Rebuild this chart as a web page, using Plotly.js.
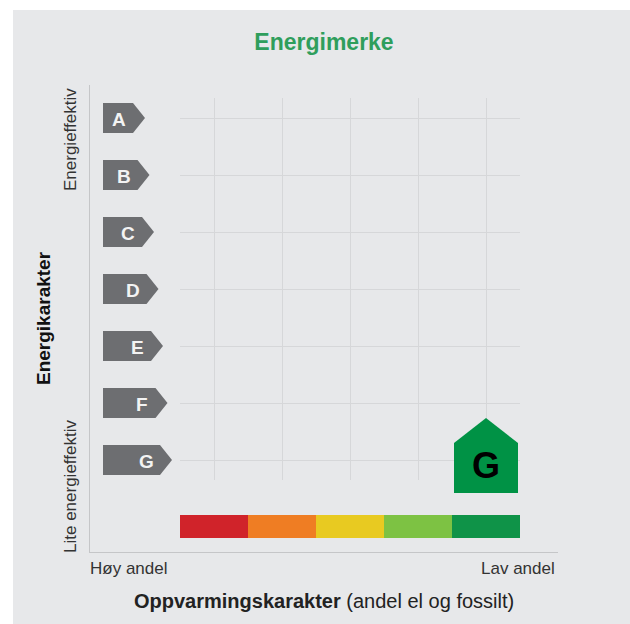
<!DOCTYPE html>
<html>
<head>
<meta charset="utf-8">
<script src="https://cdn.plot.ly/plotly-3.0.1.min.js"></script>
<style>
  html, body { margin: 0; padding: 0; background: #ffffff; width: 630px; height: 624px; overflow: hidden; }
  #chart { position: absolute; left: 13px; top: 10px; width: 617px; height: 614px; }
</style>
</head>
<body>
<div id="chart"></div>
<script>
// ---------------- DATA ----------------
const energyClasses = ['A', 'B', 'C', 'D', 'E', 'F', 'G'];          // energikarakter, best -> worst
const heatingLevels = [1, 2, 3, 4, 5];                                // oppvarmingskarakter columns
const heatingLevelNames = ['Høy andel', '', '', '', 'Lav andel'];     // end labels of heating axis
const energyEndLabels = ['Energieffektiv', 'Lite energieffektiv'];    // end labels of energy axis
const ratingEnergy = 'G';                                             // the building's energy class
const ratingHeating = 5;                                              // the building's heating level

// ---------------- STYLE ----------------
const heatingColors = ['#d0232a', '#ef7d23', '#e8ca21', '#7dc243', '#0f9348'];
const FONT = 'Liberation Sans, Arial, Helvetica, sans-serif';
const BG = '#e7e8ea';
const arrowColor = '#6d6e71';
const houseColor = '#009245';

// scale: plot area is 468 x 467 px; 68 px per heating step, 57 px per energy step
const PXX = 68, PXY = 57;
const XMIN = 1 - 124 / PXX, XMAX = 1 + 344 / PXX;
const YMIN = 1 - 92 / PXY, YMAX = 1 + 375 / PXY;
const rowY = c => energyClasses.length - energyClasses.indexOf(c);   // A -> 7 ... G -> 1

const traces = [];
const annotations = [];

// grid subplot (drawn first, below everything)
traces.push({ x: [null], y: [null], xaxis: 'x', yaxis: 'y', type: 'scatter', mode: 'markers', hoverinfo: 'skip', showlegend: false });

// energy class arrows
energyClasses.forEach((c, i) => {
  const y = rowY(c);
  const left = 1 + (103 - 214) / PXX;
  const tipPx = 145 + 4.5 * i;
  const tip = 1 + (tipPx - 214) / PXX;
  const body = 1 + (tipPx - 12 - 214) / PXX;
  const h = 15 / PXY;
  traces.push({
    x: [left, body, tip, body, left, left],
    y: [y + h, y + h, y, y - h, y - h, y + h],
    xaxis: 'x2', yaxis: 'y2', type: 'scatter', mode: 'lines', fill: 'toself',
    fillcolor: arrowColor, line: { width: 0, color: arrowColor },
    hoverinfo: 'skip', showlegend: false
  });
  annotations.push({
    xref: 'x2', yref: 'y2', x: 1 + (tipPx - 26 - 214) / PXX, y: y - 1 / PXY,
    text: '<b>' + c + '</b>', showarrow: false, xanchor: 'center', yanchor: 'middle',
    font: { family: FONT, size: 19, color: '#f3f3f3' }
  });
});

// heating colour bar
traces.push({
  type: 'bar', x: heatingLevels, y: heatingLevels.map(() => 23 / PXY),
  base: 1 + (460 - 538) / PXY, width: 1,
  marker: { color: heatingColors, line: { width: 0 } },
  xaxis: 'x2', yaxis: 'y2', hoverinfo: 'skip', showlegend: false
});

// house marker for the rating
(function () {
  const x = ratingHeating, y = rowY(ratingEnergy);
  const hw = 32 / PXX, top = 17 / PXY, bot = -33 / PXY, peak = 42 / PXY;
  traces.push({
    x: [x - hw, x - hw, x, x + hw, x + hw, x - hw],
    y: [y + bot, y + top, y + peak, y + top, y + bot, y + bot],
    xaxis: 'x2', yaxis: 'y2', type: 'scatter', mode: 'lines', fill: 'toself',
    fillcolor: houseColor, line: { width: 0, color: houseColor },
    hoverinfo: 'skip', showlegend: false
  });
  annotations.push({
    xref: 'x2', yref: 'y2', x: x, y: y - 5 / PXY,
    text: '<b>' + ratingEnergy + '</b>', showarrow: false, xanchor: 'center', yanchor: 'middle',
    font: { family: FONT, size: 36, color: '#000000' }
  });
})();

// axis end labels and titles
annotations.push(
  { xref: 'paper', yref: 'paper', x: 0, y: -16 / 467, xshift: -2, xanchor: 'left', yanchor: 'middle',
    text: heatingLevelNames[0], showarrow: false, font: { family: FONT, size: 17, color: '#333333' } },
  { xref: 'paper', yref: 'paper', x: 1, y: -16 / 467, xshift: -1, xanchor: 'right', yanchor: 'middle',
    text: heatingLevelNames[heatingLevelNames.length - 1], showarrow: false, font: { family: FONT, size: 17, color: '#333333' } },
  { xref: 'paper', yref: 'paper', x: (323.5 - 90) / 468, y: -49 / 467, xanchor: 'center', yanchor: 'middle',
    text: '<b>Oppvarmingskarakter</b> (andel el og fossilt)', showarrow: false,
    font: { family: FONT, size: 20, color: '#222222' } },
  { xref: 'paper', yref: 'paper', x: (43 - 90) / 468, y: (542 - 308) / 467, xanchor: 'center', yanchor: 'middle',
    textangle: -90, text: '<b>Energikarakter</b>', showarrow: false,
    font: { family: FONT, size: 19, color: '#111111' } },
  { xref: 'paper', yref: 'paper', x: (70 - 90) / 468, y: (542 - 130) / 467, xanchor: 'center', yanchor: 'middle',
    textangle: -90, text: energyEndLabels[0], showarrow: false,
    font: { family: FONT, size: 17, color: '#333333' } },
  { xref: 'paper', yref: 'paper', x: (70 - 90) / 468, y: (542 - 477) / 467, xanchor: 'center', yanchor: 'middle',
    textangle: -90, text: energyEndLabels[1], showarrow: false,
    font: { family: FONT, size: 17, color: '#333333' } }
);

// grid box extent in main-axis units
const GX0 = 0.5, GX1 = heatingLevels.length + 0.5;
const GY0 = 0.65, GY1 = energyClasses.length + 0.35;

const layout = {
  width: 617, height: 614,
  margin: { l: 77, r: 72, t: 75, b: 72, pad: 0 },
  paper_bgcolor: BG, plot_bgcolor: 'rgba(0,0,0,0)',
  showlegend: false, hovermode: false, barmode: 'overlay',
  title: {
    text: 'Energimerke', xref: 'container', yref: 'container',
    x: 311 / 617, y: 1 - 32 / 614, xanchor: 'center', yanchor: 'middle',
    font: { family: FONT, size: 23, color: '#2f9e5c', weight: 'bold' }
  },
  // grid subplot
  xaxis: {
    domain: [(GX0 - XMIN) / (XMAX - XMIN), (GX1 - XMIN) / (XMAX - XMIN)],
    range: [GX0, GX1], tickvals: heatingLevels, showticklabels: false, ticks: '',
    showgrid: true, gridcolor: '#d6d7d9', gridwidth: 1, zeroline: false, showline: false,
    anchor: 'y', fixedrange: true
  },
  yaxis: {
    domain: [(GY0 - YMIN) / (YMAX - YMIN), (GY1 - YMIN) / (YMAX - YMIN)],
    range: [GY0, GY1], tickvals: energyClasses.map(rowY), showticklabels: false, ticks: '',
    showgrid: true, gridcolor: '#d6d7d9', gridwidth: 1, zeroline: false, showline: false,
    anchor: 'x', fixedrange: true
  },
  // main subplot
  xaxis2: {
    domain: [0, 1], range: [XMIN, XMAX], anchor: 'y2',
    showgrid: false, zeroline: false, showticklabels: false, ticks: '',
    showline: true, linecolor: '#c5c6c8', linewidth: 1, fixedrange: true
  },
  yaxis2: {
    domain: [0, 1], range: [YMIN, YMAX], anchor: 'x2',
    showgrid: false, zeroline: false, showticklabels: false, ticks: '',
    showline: true, linecolor: '#c5c6c8', linewidth: 1, fixedrange: true
  },
  annotations: annotations
};

Plotly.newPlot('chart', traces, layout, { staticPlot: true, displayModeBar: false });
</script>
</body>
</html>
